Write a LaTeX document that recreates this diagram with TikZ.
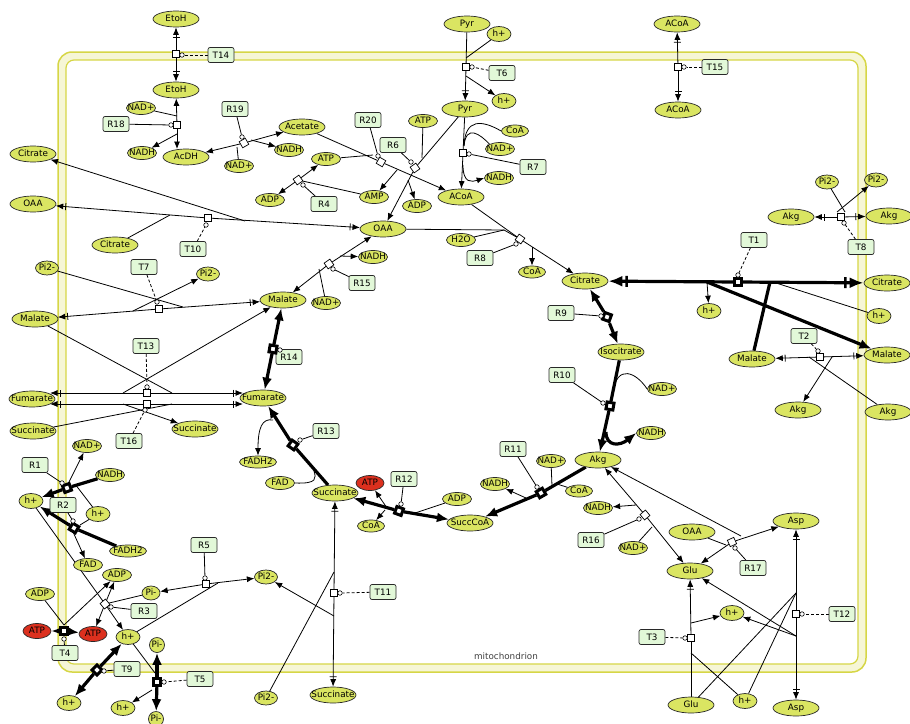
\documentclass[tikz,border=0pt]{standalone}
\usepackage{fontspec}
\setmainfont{DejaVu Sans}
\usetikzlibrary{shapes.geometric,arrows.meta,calc}
\definecolor{spc}{RGB}{218,229,98}
\definecolor{atpc}{RGB}{220,48,30}
\definecolor{boxc}{RGB}{226,248,216}
\definecolor{edgec}{RGB}{40,40,40}
\definecolor{compy}{RGB}{214,214,70}
\definecolor{band}{RGB}{246,246,214}
\newcommand\fs{\fontsize{8.8}{10}\selectfont}
\newcommand\T[1]{\makebox[0pt]{#1}}
\pgfdeclarelayer{back}\pgfdeclarelayer{edges}
\pgfsetlayers{back,edges,main}
\begin{document}
\begin{tikzpicture}[x=1pt,y=-1pt,
 sp/.style={ellipse, draw=edgec, line width=0.7pt, fill=spc, inner sep=0pt, minimum width=46pt, minimum height=16pt, font=\fs, text height=6.3pt, text depth=1.3pt},
 sm/.style={sp, minimum width=29pt, minimum height=13pt},
 hp/.style={sp, minimum width=24pt, minimum height=15pt},
 pp/.style={sp, minimum width=23pt, minimum height=14pt},
 atpn/.style={sp, fill=atpc, minimum width=28pt, minimum height=15pt},
 rb/.style={draw=edgec, fill=boxc, rounded corners=2pt, line width=0.7pt, minimum width=26pt, minimum height=15pt, inner sep=2pt, font=\fs},
 sq/.style={draw=black, fill=white, minimum size=7pt, inner sep=0pt, line width=0.7pt},
 tsq/.style={draw=black, fill=white, minimum size=7pt, inner sep=0pt, line width=3pt},
 mc/.style={circle, draw=black, fill=white, minimum size=4.5pt, inner sep=0pt, line width=0.6pt},
 ln/.style={line width=0.8pt},
 ar/.style={ln, -{Latex[length=7.5pt,width=6pt]}},
 barar/.style={ln, -{Bar[width=7pt,sep=2pt]Latex[length=7.5pt,width=6pt]}},
 tl/.style={line width=3.2pt},
 tar/.style={tl, -{Latex[length=12pt,width=10pt]}},
 tbar/.style={tl, -{Bar[width=11pt,line width=2.5pt,sep=3pt]Latex[length=14pt,width=11pt]}},
 md/.style={ln, dash pattern=on 3pt off 2pt},
 mo/.style={ln}
]
\useasboundingbox (0,0) rectangle (910,723);
\begin{pgfonlayer}{back}
\draw[fill=band, draw=compy, line width=1.5pt, rounded corners=14pt] (58,52) rectangle (866,672);
\draw[fill=white, draw=compy, line width=1.2pt, rounded corners=8pt] (66,60) rectangle (858,664);
\end{pgfonlayer}
\node[font=\fs, text=black!75] (mitolab) at (506,656) {mitochondrion};
% species
\node[sp] (etohO) at (176,19) {\T{EtoH}};
\node[sp] (etohI) at (176,90) {\T{EtoH}};
\node[sm] (nadp1) at (141,108) {\T{NAD+}};
\node[sm] (nadh1) at (142,153) {\T{NADH}};
\node[sp] (acdh) at (186,157) {\T{AcDH}};
\node[sp] (acet) at (302,127) {\T{Acetate}};
\node[sm] (nadh2) at (289,150) {\T{NADH}};
\node[sm] (nadp2) at (239,166) {\T{NAD+}};
\node[sp] (citL) at (33,154) {\T{Citrate}};
\node[sp] (oaaL) at (33,204) {\T{OAA}};
\node[sm] (adp1) at (270,200) {\T{ADP}};
\node[sm] (atp1) at (326,159) {\T{ATP}};
\node[sm] (amp) at (374,197) {\T{AMP}};
\node[sm] (adp2) at (417,206) {\T{ADP}};
\node[sm] (atp2) at (423,121) {\T{ATP}};
\node[sp] (pyrO) at (467,24) {\T{Pyr}};
\node[hp] (hO1) at (499,34) {\T{h+}};
\node[hp] (hI1) at (504,101) {\T{h+}};
\node[sp] (pyrI) at (465,109) {\T{Pyr}};
\node[sm, minimum width=27pt, minimum height=12pt] (coa1) at (515,131) {\T{CoA}};
\node[sm] (nadp3) at (500,149) {\T{NAD+}};
\node[sm] (nadh3) at (499,178) {\T{NADH}};
\node[sp] (acoa) at (461,197) {\T{ACoA}};
\node[sp] (oaa) at (383,229) {\T{OAA}};
\node[sm] (h2o) at (461,240) {\T{H2O}};
\node[sm, minimum width=27pt, minimum height=12pt] (coa2) at (532,272) {\T{CoA}};
\node[sp] (cit) at (585,281) {\T{Citrate}};
\node[sp] (acoaO) at (677,24) {\T{ACoA}};
\node[sp] (acoaI) at (678,110) {\T{ACoA}};
\node[pp] (pi1) at (827,182) {\T{Pi2-}};
\node[pp] (pi2) at (876,180) {\T{Pi2-}};
\node[sp] (akgI2) at (791,217) {\T{Akg}};
\node[sp] (akgO2) at (889,216) {\T{Akg}};
\node[sp] (cit2) at (115,245) {\T{Citrate}};
\node[pp] (piL1) at (47,268) {\T{Pi2-}};
\node[pp] (piL2) at (208,274) {\T{Pi2-}};
\node[sp] (malR) at (283,300) {\T{Malate}};
\node[sp] (malL) at (35,319) {\T{Malate}};
\node[sp] (fumL) at (32,399) {\T{Fumarate}};
\node[sp] (fumR) at (263,398) {\T{Fumarate}};
\node[sp] (sucL) at (33,431) {\T{Succinate}};
\node[sp] (sucI2) at (195,429) {\T{Succinate}};
\node[sm] (nadh4) at (373,257) {\T{NADH}};
\node[sm] (nadp4) at (326,303) {\T{NAD+}};
\node[sp] (citO) at (887,283) {\T{Citrate}};
\node[hp] (h3) at (709,311) {\T{h+}};
\node[hp] (hO3) at (879,316) {\T{h+}};
\node[sp] (iso) at (621,352) {\T{Isocitrate}};
\node[sp] (malI3) at (752,359) {\T{Malate}};
\node[sp] (malO3) at (887,355) {\T{Malate}};
\node[sm] (nadp5) at (662,389) {\T{NAD+}};
\node[sp] (akgI3) at (798,410) {\T{Akg}};
\node[sp] (akgO3) at (888,412) {\T{Akg}};
\node[sm] (nadh5) at (651,433) {\T{NADH}};
\node[sm, minimum width=37pt, minimum height=12pt] (fadh2) at (258,462) {\T{FADH2}};
\node[sm] (fad) at (280,483) {\T{FAD}};
\node[sm] (nadp6) at (87,446) {\T{NAD+}};
\node[sm] (nadh6) at (110,475) {\T{NADH}};
\node[sp] (suc) at (335,493) {\T{Succinate}};
\node[atpn] (atpR) at (370,483) {\T{ATP}};
\node[sm, minimum width=27pt, minimum height=12pt] (coa3) at (371,526) {\T{CoA}};
\node[sm] (adp3) at (457,499) {\T{ADP}};
\node[sp] (succoa) at (470,523) {\T{SuccCoA}};
\node[sm] (nadh7) at (495,484) {\T{NADH}};
\node[sm] (nadp7) at (551,461) {\T{NAD+}};
\node[sp] (akg) at (598,460) {\T{Akg}};
\node[sm, minimum width=27pt, minimum height=12pt] (coa4) at (579,491) {\T{CoA}};
\node[sm] (nadh8) at (598,508) {\T{NADH}};
\node[sm] (nadp8) at (633,548) {\T{NAD+}};
\node[sp] (oaa2) at (692,532) {\T{OAA}};
\node[sp] (asp) at (796,521) {\T{Asp}};
\node[sp] (glu) at (690,571) {\T{Glu}};
\node[hp] (hL1) at (31,501) {\T{h+}};
\node[hp] (hL2) at (98,514) {\T{h+}};
\node[sm, minimum width=37pt, minimum height=12pt] (fadh2b) at (128,551) {\T{FADH2}};
\node[sm] (fadb) at (88,565) {\T{FAD}};
\node[sm] (adp4) at (117,575) {\T{ADP}};
\node[pp] (pi2a) at (266,577) {\T{Pi2-}};
\node[sm] (adp5) at (40,594) {\T{ADP}};
\node[pp, minimum width=18pt] (pim1) at (151,593) {\T{Pi-}};
\node[atpn] (atpL) at (37,631) {\T{ATP}};
\node[atpn] (atpR2) at (93,634) {\T{ATP}};
\node[hp] (hm) at (128,637) {\T{h+}};
\node[pp, minimum width=15pt, minimum height=15pt] (pim2) at (157,645) {\T{Pi-}};
\node[hp] (hb1) at (69,703) {\T{h+}};
\node[hp] (hb2) at (123,708) {\T{h+}};
\node[pp, minimum width=15pt, minimum height=15pt] (pim3) at (156,719) {\T{Pi-}};
\node[pp] (pi2b) at (266,698) {\T{Pi2-}};
\node[sp] (sucO) at (333,695) {\T{Succinate}};
\node[hp] (h4) at (732,613) {\T{h+}};
\node[sp] (gluO) at (691,705) {\T{Glu}};
\node[hp] (h5) at (745,701) {\T{h+}};
\node[sp] (aspO) at (796,708) {\T{Asp}};
% boxes
\node[rb] (T14) at (221,55) {T14};
\node[rb] (R18) at (116,124) {R18};
\node[rb] (R19) at (235,109) {R19};
\node[rb] (R20) at (368,120) {R20};
\node[rb] (R6) at (393,145) {R6};
\node[rb] (R4) at (324,204) {R4};
\node[rb] (T6) at (502,73) {T6};
\node[rb] (R7) at (533,167) {R7};
\node[rb] (T15) at (715,67) {T15};
\node[rb] (T10) at (193,249) {T10};
\node[rb] (T8) at (861,247) {T8};
\node[rb] (T1) at (754,240) {T1};
\node[rb] (T7) at (144,267) {T7};
\node[rb] (R8) at (480,258) {R8};
\node[rb] (R15) at (362,283) {R15};
\node[rb] (R9) at (561,313) {R9};
\node[rb] (T2) at (804,336) {T2};
\node[rb] (R14) at (289,357) {R14};
\node[rb] (T13) at (146,346) {T13};
\node[rb] (R10) at (562,375) {R10};
\node[rb] (R13) at (326,431) {R13};
\node[rb] (T16) at (129,441) {T16};
\node[rb] (R11) at (513,449) {R11};
\node[rb] (R1) at (35,465) {R1};
\node[rb] (R12) at (404,479) {R12};
\node[rb] (R2) at (63,505) {R2};
\node[rb] (R16) at (591,540) {R16};
\node[rb] (R5) at (204,545) {R5};
\node[rb] (R17) at (753,568) {R17};
\node[rb] (R3) at (144,611) {R3};
\node[rb] (T11) at (383,592) {T11};
\node[rb] (T12) at (842,614) {T12};
\node[rb] (T3) at (652,637) {T3};
\node[rb] (T4) at (65,653) {T4};
\node[rb] (T9) at (127,669) {T9};
\node[rb] (T5) at (200,679) {T5};
% process squares
\node[sq] (sqT14) at (176,54) {};
\node[sq] (sqR18) at (177,125) {};
\node[sq,rotate=30] (sqR19) at (244,143) {};
\node[sq,rotate=-30] (sqR20) at (381,162) {};
\node[sq,rotate=35] (sqR6) at (415,168) {};
\node[sq,rotate=35] (sqR4) at (298,180) {};
\node[sq] (sqT6) at (466,67) {};
\node[sq] (sqR7) at (463,153) {};
\node[sq] (sqT15) at (678,67) {};
\node[sq] (sqT10) at (208,218) {};
\node[sq] (sqT8) at (841,217) {};
\node[tsq] (sqT1) at (738,282) {};
\node[sq] (sqT7) at (159,309) {};
\node[sq,rotate=-35] (sqR8) at (520,239) {};
\node[sq,rotate=35] (sqR15) at (329,264) {};
\node[tsq,rotate=-20] (sqR9) at (607,317) {};
\node[sq] (sqT2) at (820,357) {};
\node[tsq,rotate=-10] (sqR14) at (273,349) {};
\node[sq] (sqT13) at (147,393) {};
\node[sq] (sqT16) at (147,404) {};
\node[tsq,rotate=-10] (sqR10) at (610,406) {};
\node[tsq,rotate=-35] (sqR13) at (293,445) {};
\node[tsq,rotate=30] (sqR11) at (541,493) {};
\node[tsq,rotate=20] (sqR1) at (67,488) {};
\node[tsq,rotate=-20] (sqR12) at (399,511) {};
\node[tsq,rotate=-30] (sqR2) at (74,528) {};
\node[sq,rotate=-50] (sqR16) at (645,515) {};
\node[sq] (sqR5) at (206,584) {};
\node[sq,rotate=25] (sqR17) at (732,542) {};
\node[sq,rotate=40] (sqR3) at (105,604) {};
\node[sq] (sqT11) at (334,593) {};
\node[sq] (sqT12) at (796,614) {};
\node[sq] (sqT3) at (691,638) {};
\node[tsq] (sqT4) at (64,631) {};
\node[tsq,rotate=45] (sqT9) at (97,670) {};
\node[tsq] (sqT5) at (157,682) {};
% modifier circles
\node[mc] (cT14) at (182,55) {};
\node[mc] (cR18) at (171,125) {};
\node[mc] (cR19) at (242,137) {};
\node[mc] (cR20) at (378,156) {};
\node[mc] (cR6) at (411,162) {};
\node[mc] (cR4) at (303,185) {};
\node[mc] (cT6) at (472,67) {};
\node[mc] (cR7) at (469,154) {};
\node[mc] (cT15) at (684,67) {};
\node[mc] (cT10) at (206,225) {};
\node[mc] (cT8) at (844,223) {};
\node[mc] (cT1) at (738,275) {};
\node[mc] (cT7) at (157,302) {};
\node[mc] (cR8) at (516,244) {};
\node[mc] (cR15) at (333,269) {};
\node[mc] (cR9) at (601,316) {};
\node[mc] (cT2) at (818,351) {};
\node[mc] (cR14) at (280,350) {};
\node[mc] (cT13) at (147,387) {};
\node[mc] (cT16) at (145,410) {};
\node[mc] (cR10) at (603,403) {};
\node[mc] (cR13) at (300,440) {};
\node[mc] (cR11) at (537,487) {};
\node[mc] (cR1) at (62,483) {};
\node[mc] (cR12) at (401,504) {};
\node[mc] (cR2) at (73,521) {};
\node[mc] (cR16) at (639,519) {};
\node[mc] (cR5) at (205,578) {};
\node[mc] (cR17) at (735,548) {};
\node[mc] (cR3) at (111,607) {};
\node[mc] (cT11) at (340,593) {};
\node[mc] (cT12) at (802,614) {};
\node[mc] (cT3) at (685,638) {};
\node[mc] (cT4) at (64,639) {};
\node[mc] (cT9) at (104,671) {};
\node[mc] (cT5) at (164,682) {};
% junction coordinates
\coordinate (jR18a) at (177,116);
\coordinate (jR18b) at (177,134);
\coordinate (jR18c) at (177,149);
\coordinate (jR19a) at (237,147);
\coordinate (jR19b) at (251,140);
\coordinate (jR20a) at (373,155);
\coordinate (jR20b) at (397,170);
\coordinate (jR6a) at (422,158);
\coordinate (jR6b) at (408,180);
\coordinate (jT6a) at (466,58);
\coordinate (jT6b) at (466,76);
\coordinate (jR7a) at (464,146);
\coordinate (jR7b) at (463,165);
\coordinate (jT10a) at (170,215);
\coordinate (jT10b) at (245,221);
\coordinate (jT8a) at (845,212);
\coordinate (jT8b) at (837,212);
\coordinate (jT1a) at (707,282);
\coordinate (jT1b) at (770,282);
\coordinate (jT1c) at (773,282);
\coordinate (jT2a) at (832,357);
\coordinate (jT2b) at (809,357);
\coordinate (jT7a) at (183,307);
\coordinate (jT7b) at (133,311);
\coordinate (fa) at (50,393);
\coordinate (fb) at (50,404);
\coordinate (fc) at (243,393);
\coordinate (fd) at (243,404);
\coordinate (jT13a) at (172,393);
\coordinate (jT13b) at (123,393);
\coordinate (jT16a) at (172,404);
\coordinate (jT16b) at (123,404);
\coordinate (jR8a) at (504,230);
\coordinate (jR8b) at (532,247);
\coordinate (jR15a) at (340,256);
\coordinate (jR15b) at (319,269);
\coordinate (jR13a) at (314,471);
\coordinate (jR13b) at (273,420);
\coordinate (jR12a) at (387,508);
\coordinate (jR12b) at (385,510);
\coordinate (jR12c) at (415,513);
\coordinate (jR11a) at (526,498);
\coordinate (jR11b) at (552,486);
\coordinate (jR11c) at (557,484);
\coordinate (jR10a) at (613,392);
\coordinate (jR10b) at (606,432);
\coordinate (jR16a) at (636,505);
\coordinate (jR16b) at (652,527);
\coordinate (jR17a) at (741,536);
\coordinate (jR17b) at (726,545);
\coordinate (jR1a) at (69,482);
\coordinate (jR1b) at (75,484);
\coordinate (jR2a) at (69,523);
\coordinate (jR2b) at (80,525);
\coordinate (jT4a) at (64,625);
\coordinate (jT5a) at (155,673);
\coordinate (jT5b) at (152,690);
\coordinate (jR5a) at (218,583);
\coordinate (jT11a) at (334,572);
\coordinate (jT11b) at (334,616);
\coordinate (jT3a) at (691,653);
\coordinate (jT3b) at (691,623);
\coordinate (jT12a) at (796,593);
\coordinate (jT12b) at (796,636);
\begin{pgfonlayer}{edges}
% T14
\draw[barar] (sqT14) -- (etohO);
\draw[barar] (sqT14) -- (etohI);
\draw[md] (T14) -- (cT14);
% R18
\draw[ar] (sqR18) -- (etohI);
\draw[ar] (sqR18) -- (jR18c);
\draw[ln] (nadp1) -- (jR18a);
\draw[ar] (jR18b) -- (nadh1);
\draw[mo] (R18) -- (cR18);
% R19
\draw[ar] (sqR19) -- (acdh);
\draw[ar] (sqR19) -- (acet);
\draw[ln] (nadp2) -- (jR19a);
\draw[ar] (jR19b) -- (nadh2);
\draw[mo] (R19) -- (cR19);
% R20
\draw[ln] (acet) -- (sqR20);
\draw[ar] (sqR20) -- (acoa);
\draw[ln] (atp1) -- (jR20a);
\draw[ar] (jR20b) -- (amp);
\draw[mo] (R20) -- (cR20);
% R6
\draw[ln] (pyrI) -- (sqR6);
\draw[ar] (sqR6) -- (oaa);
\draw[ln] (atp2) -- (jR6a);
\draw[ar] (jR6b) -- (adp2);
\draw[mo] (R6) -- (cR6);
% R4
\draw[ar] (sqR4) -- (atp1);
\draw[ar] (sqR4) -- (adp1);
\draw[ln] (amp) -- (sqR4);
\draw[mo] (R4) -- (cR4);
% T6
\draw[ln] (pyrO) -- (sqT6);
\draw[ln] (hO1) -- (jT6a);
\draw[barar] (sqT6) -- (pyrI);
\draw[ar] (jT6b) -- (hI1);
\draw[md] (T6) -- (cT6);
% R7
\draw[ln] (pyrI) -- (sqR7);
\draw[ar] (sqR7) -- (acoa);
\draw[ln] (coa1.west) .. controls (482,120) and (465,118) .. (jR7a);
\draw[ln] (nadp3.north west) .. controls (480,134) and (466,124) .. (jR7a);
\draw[ar] (jR7b) .. controls (463,184) and (472,182) .. (nadh3.west);
\draw[mo] (R7) -- (cR7);
% T15
\draw[barar] (sqT15) -- (acoaO);
\draw[barar] (sqT15) -- (acoaI);
\draw[md] (T15) -- (cT15);
% T10
\draw[barar] (sqT10) -- (oaaL);
\draw[barar] (sqT10) -- (oaa);
\draw[ln] (cit2) -- (jT10a);
\draw[ar] (jT10b) -- (citL);
\draw[md] (T10) -- (cT10);
% T8
\draw[barar] (sqT8) -- (akgI2);
\draw[barar] (sqT8) -- (akgO2);
\draw[ln] (pi1) -- (jT8a);
\draw[ar] (jT8b) -- (pi2);
\draw[md] (T8) -- (cT8);
% T1
\draw[tbar] (sqT1) -- (cit);
\draw[tbar] (sqT1) -- (citO);
\draw[tar] (jT1a) -- (malO3);
\draw[ar] (jT1a) -- (h3);
\draw[tl] (malI3) -- (jT1b);
\draw[ln] (jT1c) -- (hO3);
\draw[md] (T1) -- (cT1);
% T2
\draw[barar] (sqT2) -- (malI3);
\draw[barar] (sqT2) -- (malO3);
\draw[ar] (jT2a) -- (akgI3);
\draw[ln] (akgO3) -- (jT2b);
\draw[md] (T2) -- (cT2);
% T7
\draw[barar] (sqT7) -- (malL);
\draw[barar] (sqT7) -- (malR);
\draw[ln] (piL1) -- (jT7a);
\draw[ar] (jT7b) -- (piL2);
\draw[md] (T7) -- (cT7);
% T13, T16
\draw[barar] (sqT13) -- (fa);
\draw[barar] (sqT13) -- (fc);
\draw[barar] (sqT16) -- (fb);
\draw[barar] (sqT16) -- (fd);
\draw[ln] (malL) -- (jT13a);
\draw[ar] (jT13b) -- (malR);
\draw[ln] (sucL) -- (jT16a);
\draw[ar] (jT16b) -- (sucI2);
\draw[md] (T13) -- (cT13);
\draw[md] (T16) -- (cT16);
% R8
\draw[ln] (oaa) -- (jR8a);
\draw[ln] (h2o) -- (jR8a);
\draw[ln] (jR8a) -- (sqR8);
\draw[ln] (acoa) -- (sqR8);
\draw[ar] (sqR8) -- (cit);
\draw[ar] (jR8b) -- (coa2);
\draw[mo] (R8) -- (cR8);
% R15
\draw[ar] (sqR15) -- (malR);
\draw[ar] (sqR15) -- (oaa);
\draw[ar] (jR15a) -- (nadh4);
\draw[ln] (nadp4) -- (jR15b);
\draw[mo] (R15) -- (cR15);
% R14
\draw[tar] (sqR14) -- (malR);
\draw[tar] (sqR14) -- (fumR);
\draw[mo] (R14) -- (cR14);
% R13
\draw[tl] (suc) -- (sqR13);
\draw[tar] (sqR13) -- (fumR);
\draw[ln] (fad.east) .. controls (318,484) and (316,478) .. (jR13a);
\draw[ar] (jR13b) .. controls (262,418) and (258,428) .. (fadh2.north);
\draw[mo] (R13) -- (cR13);
% R12
\draw[tar] (sqR12) -- (suc);
\draw[tar] (sqR12) -- (succoa);
\draw[ar] (jR12a) -- (atpR);
\draw[ar] (jR12b) -- (coa3);
\draw[ln] (adp3) -- (jR12c);
\draw[mo] (R12) -- (cR12);
% R11
\draw[tl] (akg) -- (sqR11);
\draw[tar] (sqR11) -- (succoa);
\draw[ar] (jR11a) -- (nadh7);
\draw[ln] (nadp7) -- (jR11b);
\draw[ln] (coa4) -- (jR11c);
\draw[mo] (R11) -- (cR11);
% R10
\draw[tl] (iso) -- (sqR10);
\draw[tar] (sqR10) -- (akg);
\draw[ln] (nadp5.west) .. controls (636,372) and (617,364) .. (jR10a);
\draw[tar] (jR10b) .. controls (606,447) and (620,446) .. (nadh5.west);
\draw[mo] (R10) -- (cR10);
% R9
\draw[tar] (sqR9) -- (cit);
\draw[tar] (sqR9) -- (iso);
\draw[mo] (R9) -- (cR9);
% R16
\draw[ar] (sqR16) -- (akg);
\draw[ar] (sqR16) -- (glu);
\draw[ar] (jR16a) -- (nadh8);
\draw[ln] (nadp8) -- (jR16b);
\draw[mo] (R16) -- (cR16);
% R17
\draw[ar] (sqR17) -- (glu);
\draw[ar] (sqR17) -- (asp);
\draw[ln] (oaa2) -- (jR17b);
\draw[ar] (jR17a) -- (akg);
\draw[mo] (R17) -- (cR17);
% R1
\draw[tl] (nadh6) -- (sqR1);
\draw[tar] (sqR1) -- (hL1);
\draw[ar] (jR1a) -- (nadp6);
\draw[ln] (hL2) -- (jR1b);
\draw[mo] (R1) -- (cR1);
% R2
\draw[tl] (fadh2b) -- (sqR2);
\draw[tar] (sqR2) -- (hL1);
\draw[ar] (jR2a) -- (fadb);
\draw[ln] (hL2) -- (jR2b);
\draw[mo] (R2) -- (cR2);
% R3
\draw[ln] (hL1) -- (sqR3);
\draw[ar] (sqR3) -- (adp4);
\draw[ln] (pim1) -- (sqR3);
\draw[ar] (sqR3) -- (atpR2);
\draw[ar] (sqR3) -- (hm);
\draw[mo] (R3) -- (cR3);
% T4
\draw[tar] (sqT4) -- (atpL);
\draw[tar] (sqT4) -- (atpR2);
\draw[ln] (adp5) -- (jT4a);
\draw[ar] (jT4a) -- (adp4);
\draw[mo] (T4) -- (cT4);
% T9
\draw[tar] (sqT9) -- (hm);
\draw[tar] (sqT9) -- (hb1);
\draw[mo] (T9) -- (cT9);
% T5
\draw[tar] (sqT5) -- (pim2);
\draw[tar] (sqT5) -- (pim3);
\draw[ln] (hm) -- (jT5a);
\draw[ar] (jT5b) -- (hb2);
\draw[md] (T5) -- (cT5);
% R5
\draw[ar] (sqR5) -- (pi2a);
\draw[ar] (sqR5) -- (pim1);
\draw[ln] (hm) -- (jR5a);
\draw[mo] (R5) -- (cR5);
% T11
\draw[barar] (sqT11) -- (suc);
\draw[barar] (sqT11) -- (sucO);
\draw[ln] (pi2b) -- (jT11a);
\draw[ar] (jT11b) -- (pi2a);
\draw[md] (T11) -- (cT11);
% T3
\draw[ln] (gluO) -- (sqT3);
\draw[barar] (sqT3) -- (glu);
\draw[ln] (h5) -- (jT3a);
\draw[ar] (jT3b) -- (h4);
\draw[md] (T3) -- (cT3);
% T12
\draw[barar] (sqT12) -- (asp);
\draw[barar] (sqT12) -- (aspO);
\draw[ln] (gluO) -- (jT12a);
\draw[ln] (h5) -- (jT12a);
\draw[ar] (jT12b) -- (glu);
\draw[ar] (jT12b) -- (h4);
\draw[md] (T12) -- (cT12);
\end{pgfonlayer}
\end{tikzpicture}
\end{document}
